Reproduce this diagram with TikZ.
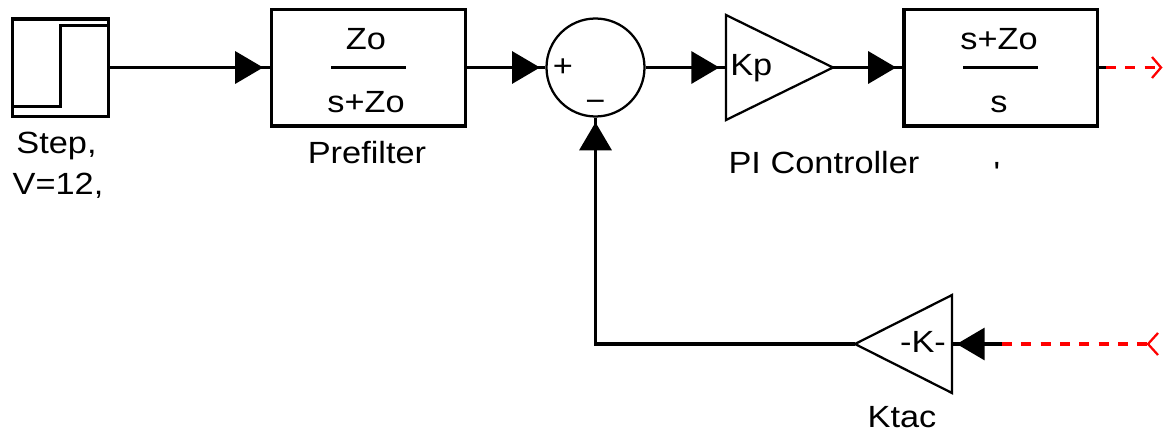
\documentclass[tikz,border=0pt]{standalone}
\usepackage{fontspec}
\setmainfont{Liberation Sans}[FakeStretch=1.12]
\newfontfamily\rawfont{Liberation Sans}[FakeStretch=1.12,Ligatures=TeXOff]
\usetikzlibrary{arrows.meta,decorations.markings}
\tikzset{
  lbl/.style={font=\fontsize{23}{28}\selectfont, inner sep=0pt},
  blk/.style={draw, line width=2.5pt, inner sep=0pt},
  wire/.style={line width=2.5pt},
  tri/.style={line width=1.7pt, line join=miter},
  fracline/.style={line width=1.8pt},
  conn/.style={wire, postaction={decorate, decoration={markings,
      mark=at position -#1 with {\arrow{Triangle[length=21pt,width=24pt]}}}}},
  conn/.default=4.5pt,
  reddash/.style={draw=red, line width=2.5pt, dash pattern=on 7.5pt off 7pt},
  chevron/.style={draw=red, line width=1.7pt},
}
\begin{document}
\begin{tikzpicture}[x=0.75pt,y=-0.75pt]
\useasboundingbox (0,0) rectangle (1163,432);

% Step source
\node[blk, minimum width=72.2pt, minimum height=73pt] (step) at (60.6,67.5) {};
\draw[line width=2.1pt] (12.5,106.7) -- (60.7,106.7) -- (60.7,25.3) -- (108.8,25.3);
\node[lbl, anchor=base] (steplabA) at (56.5,153) {Step,};
\node[lbl, anchor=base] (steplabB) at (58,194) {V=12,};

% Prefilter
\node[blk, minimum width=145.5pt, minimum height=87.5pt] (pre) at (368.5,67.5) {};
\node[lbl, anchor=base] (prenum) at (366,49) {Zo};
\draw[fracline] (331,67.5) -- (406,67.5);
\node[lbl, anchor=base] (preden) at (366,112) {s+Zo};
\node[lbl, anchor=base] (prelab) at (367,163) {Prefilter};

% Sum
\node[draw, circle, line width=1.7pt, minimum size=73.5pt, inner sep=0pt] (sum) at (595.5,67.5) {};
\node[lbl] (plus) at (563,67.5) {+};
\node[lbl] (minus) at (595.5,106) {−};

% Kp gain
\coordinate (kpin) at (726,67.5);
\coordinate (kpout) at (833,67.5);
\draw[tri] (726,15) -- (726,120) -- (kpout) -- cycle;
\node[lbl, anchor=base west] (kptxt) at (730,75) {Kp};
\node[lbl, anchor=base] (pilab) at (824,173) {PI Controller};

% PI block
\node[blk, minimum width=145.3pt, minimum height=87.5pt] (pi) at (1000.7,67.5) {};
\node[lbl, anchor=base] (pinum) at (999,49) {s+Zo};
\draw[fracline] (963,67.5) -- (1038,67.5);
\node[lbl, anchor=base] (piden) at (999,112) {s};
\node[lbl, anchor=base] (tick) at (997,183) {\rawfont '};

% Ktac gain
\coordinate (ktacin) at (952,344);
\coordinate (ktacout) at (855,344);
\draw[tri] (952,295) -- (952,393) -- (ktacout) -- cycle;
\node[lbl, anchor=base] (ktxt) at (923,352) {-K-};
\node[lbl, anchor=base] (ktaclab) at (902,427) {Ktac};

% free ends
\coordinate (piout) at (1106,67.5);
\coordinate (topend) at (1155,67.5);
\coordinate (topchev) at (1161,67.5);
\coordinate (ktacsrc) at (1002,344);
\coordinate (botchev) at (1148,344);
\coordinate (fbc) at (595.5,344);

% connectors
\draw[conn=5pt] (step.east) -- (pre.west);
\draw[conn=4pt] (pre.east) -- (sum.west);
\draw[conn=5pt] (sum.east) -- (kpin);
\draw[conn=4.5pt] (kpout) -- (pi.west);
\draw[conn=3.5pt] (ktacout) -- (fbc) -- (sum.south);
\draw[conn=3.5pt] (ktacsrc) -- (ktacin);

% unconnected lines
\draw[wire] (pi.east) -- (piout);
\draw[reddash] (piout) -- (topend);
\draw[chevron] (1152,57) -- (topchev) -- (1152,78);
\draw[reddash] (ktacsrc) -- (botchev);
\draw[chevron] (1158,333) -- (botchev) -- (1158,355);
\end{tikzpicture}
\end{document}
